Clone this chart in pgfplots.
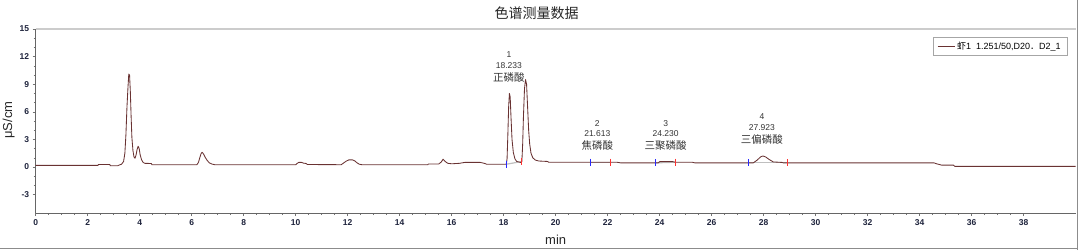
\documentclass[border=0pt]{standalone}
\usepackage{pgfplots}
\pgfplotsset{compat=1.18}
\usepackage{fontspec}
\setmainfont{Liberation Sans}
\newfontfamily\cjk{Noto Sans CJK SC}
\definecolor{curve}{RGB}{105,50,50}
\definecolor{tickc}{RGB}{30,35,60}
\definecolor{framec}{RGB}{140,140,140}
\definecolor{startc}{RGB}{40,40,255}
\definecolor{endc}{RGB}{255,50,50}
\begin{document}
\begin{tikzpicture}
\useasboundingbox (-35.7pt,-37pt) rectangle (1044.3pt,213pt);
\begin{axis}[
  at={(0pt,0pt)}, anchor=south west,
  scale only axis, width=1040pt, height=184pt,
  xmin=0, xmax=40, ymin=-5, ymax=15,
  xtick={0,2,...,38}, ytick={-3,0,3,6,9,12,15},
  minor x tick num=3, minor y tick num=2,
  axis lines=left, axis line style={-, draw=black!60, line width=0.6pt},
  tick align=outside,
  major tick length=3pt, minor tick length=2pt,
  every tick/.style={draw=black!55, line width=0.4pt},
  tick label style={font=\fontsize{8.5}{9}\selectfont\bfseries, text=tickc},
  /pgf/number format/assume math mode=true,
  clip=false,
  legend style={at={(0.9916,0.957)}, anchor=north east, draw=black!35,
    font=\fontsize{9}{10}\selectfont, inner xsep=4pt, inner ysep=2.5pt},
  legend cell align=left,
  legend image post style={line width=1.2pt},
]
% integration baselines
\addplot[forget plot, draw=black!25, line width=1.2pt] coordinates {(18.1,0.3) (18.7,0.6)};
\addplot[forget plot, draw=black!25, line width=1.2pt] coordinates {(21.35,0.52) (22.1,0.52)};
\addplot[forget plot, draw=black!25, line width=1.2pt] coordinates {(23.85,0.45) (24.62,0.52)};
\addplot[forget plot, draw=black!25, line width=1.2pt] coordinates {(27.4,0.45) (28.9,0.45)};
% main trace
\addplot[curve, line width=0.85pt, line join=round] coordinates {
(0,0.18) (2.40,0.18) (2.41,0.28) (2.85,0.28) (2.87,0.13) (3.15,0.13) (3.20,0.2) (3.30,0.3)
(3.38,0.6) (3.43,1.5) (3.47,3.5) (3.51,6.5) (3.55,8.7) (3.58,10.1) (3.61,10.0) (3.64,8.2)
(3.67,5.5) (3.70,3.2) (3.74,1.8) (3.78,1.1) (3.82,0.95) (3.86,1.3) (3.90,1.9) (3.94,2.25)
(3.98,2.0) (4.02,1.3) (4.07,0.8) (4.13,0.5) (4.2,0.4) (4.45,0.38) (4.47,0.25) (6.20,0.25)
(6.26,0.5) (6.31,1.0) (6.36,1.45) (6.40,1.6) (6.46,1.4) (6.53,1.0) (6.60,0.7) (6.68,0.45)
(6.78,0.32) (6.88,0.25) (10.0,0.25) (10.05,0.38) (10.12,0.5) (10.22,0.5) (10.30,0.42)
(10.40,0.38) (10.45,0.27) (11.75,0.25) (11.85,0.45) (11.95,0.65) (12.05,0.78) (12.18,0.78)
(12.28,0.65) (12.36,0.45) (12.45,0.3) (12.55,0.25) (15.08,0.25) (15.10,0.32) (15.50,0.32)
(15.60,0.55) (15.67,0.85) (15.75,0.6) (15.85,0.4) (16.0,0.35) (16.3,0.4) (16.5,0.5)
(17.1,0.5) (17.25,0.4) (17.35,0.3) (18.10,0.3) (18.13,0.9) (18.16,3.5) (18.19,6.5)
(18.22,8.0) (18.25,7.6) (18.28,5.5) (18.32,3.0) (18.37,1.6) (18.43,0.9) (18.50,0.6)
(18.65,0.5) (18.70,0.6) (18.73,2.5) (18.76,5.5) (18.80,8.5) (18.84,9.5) (18.88,9.0)
(18.92,6.5) (18.96,4.0) (19.00,2.5) (19.05,1.5) (19.12,1.0) (19.22,0.75) (19.35,0.65)
(19.70,0.6) (19.72,0.52) (22.35,0.52) (22.50,0.45) (23.95,0.45) (24.00,0.58) (24.50,0.58)
(24.60,0.52) (25.25,0.52) (25.35,0.45) (27.60,0.45) (27.75,0.75) (27.88,1.1) (27.97,1.2)
(28.07,1.1) (28.22,0.8) (28.37,0.55) (28.70,0.5) (28.75,0.45) (34.55,0.45) (34.65,0.35)
(34.85,0.2) (35.30,0.2) (35.35,0.07) (40,0.07)
};
\addlegendentry{{\cjk 虾}1\ \ 1.251/50,D20{\cjk ．}D2\_1}
% peak start / end markers
\addplot[forget plot, only marks, mark=|, mark size=3.5pt, mark options={draw=startc, line width=1.1pt}]
  coordinates {(18.1,0.3) (21.35,0.52) (23.85,0.45) (27.4,0.45)};
\addplot[forget plot, only marks, mark=|, mark size=3.5pt, mark options={draw=endc, line width=1.1pt}]
  coordinates {(18.7,0.6) (22.1,0.52) (24.62,0.52) (28.9,0.45)};
% top spine
\draw[draw=black!20, line width=1.2pt] (rel axis cs:0,1) -- (rel axis cs:1,1);
% peak annotations
\begin{scope}[every node/.style={font=\fontsize{8.5}{10}\selectfont, text=black!80, inner sep=0pt}]
\node at (axis cs:18.2,12.2) {1};
\node at (axis cs:18.2,11.05) {18.233};
\node at (axis cs:18.2,9.75) {\cjk\fontsize{10.5}{12}\selectfont 正磷酸};
\node at (axis cs:21.6,4.75) {2};
\node at (axis cs:21.6,3.6) {21.613};
\node at (axis cs:21.6,2.35) {\cjk\fontsize{10.5}{12}\selectfont 焦磷酸};
\node at (axis cs:24.23,4.75) {3};
\node at (axis cs:24.23,3.6) {24.230};
\node at (axis cs:24.23,2.35) {\cjk\fontsize{10.5}{12}\selectfont 三聚磷酸};
\node at (axis cs:27.93,5.5) {4};
\node at (axis cs:27.93,4.3) {27.923};
\node at (axis cs:27.93,2.95) {\cjk\fontsize{10.5}{12}\selectfont 三偏磷酸};
\end{scope}
\end{axis}
% title and axis labels
\node[font=\cjk\fontsize{14}{16}\selectfont, text=black!85] at (501pt,200pt) {色谱测量数据};
\node[font=\fontsize{13}{15}\selectfont, text=black!85] at (520pt,-27pt) {min};
\node[font=\fontsize{13}{15}\selectfont, text=black!85, rotate=90] at (-27pt,93pt) {μS/cm};
% outer frame
\draw[framec, line width=1pt] (-35.7pt,-35pt) -- (1041.3pt,-35pt);
\draw[framec, line width=1pt] (1041.3pt,-37pt) -- (1041.3pt,213pt);
\end{tikzpicture}
\end{document}
